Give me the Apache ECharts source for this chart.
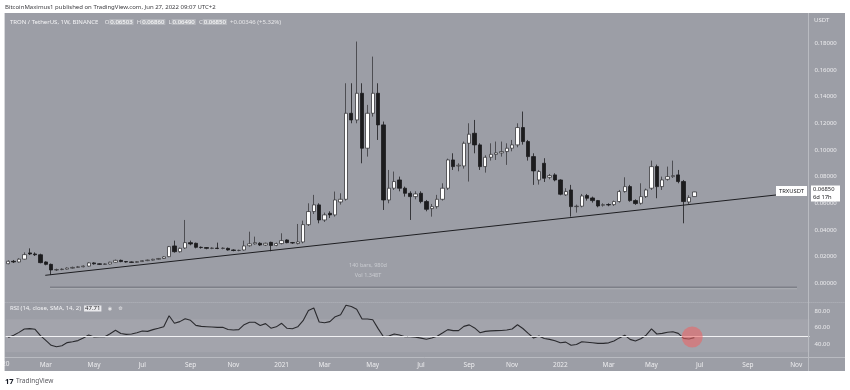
<!DOCTYPE html>
<html>
<head>
<meta charset="utf-8">
<script src="https://cdn.jsdelivr.net/npm/echarts@6/dist/echarts.min.js"></script>
<style>html,body{margin:0;padding:0;background:#fff}#c{width:850px;height:390px}</style>
</head>
<body>
<div id="c"></div>
<script>
// ---------- DATA ----------
const firstWeek = '2020-01-13';   // first visible weekly candle
const weekSlots = 150;            // visible slots incl. empty future weeks
const monthNames = ['Jan','Feb','Mar','Apr','May','Jun','Jul','Aug','Sep','Oct','Nov','Dec'];

const open = [
0.0147,0.0165,0.0160,0.0181,0.0228,0.0220,0.0214,0.0160,0.0142,0.0100,
0.0103,0.0106,0.0114,0.0119,0.0124,0.0129,0.0153,0.0146,0.0142,0.0145,
0.0158,0.0172,0.0163,0.0160,0.0157,0.0163,0.0170,0.0174,0.0180,0.0186,
0.0200,0.0280,0.0237,0.0265,0.0305,0.0300,0.0270,0.0268,0.0262,0.0264,
0.0261,0.0262,0.0250,0.0246,0.0250,0.0282,0.0296,0.0300,0.0287,0.0307,
0.0284,0.0298,0.0325,0.0305,0.0298,0.0310,0.0440,0.0538,0.0588,0.0475,
0.0525,0.0513,0.0610,0.0630,0.1275,0.1225,0.1425,0.1013,0.1275,0.1425,
0.1188,0.0625,0.0713,0.0775,0.0713,0.0675,0.0650,0.0675,0.0613,0.0560,
0.0575,0.0630,0.0713,0.0925,0.0880,0.0880,0.1050,0.1125,0.1038,0.0875,
0.0945,0.0967,0.0978,0.0988,0.1013,0.1038,0.1168,0.1063,0.0950,0.0775,
0.0900,0.0795,0.0813,0.0775,0.0663,0.0700,0.0575,0.0578,0.0658,0.0640,
0.0620,0.0585,0.0590,0.0590,0.0613,0.0688,0.0725,0.0620,0.0600,0.0650,
0.0713,0.0875,0.0725,0.0780,0.0800,0.0813,0.0763,0.0610,0.06503];
const close = [
0.0165,0.0160,0.0181,0.0215,0.0220,0.0214,0.0155,0.0142,0.0100,0.0103,
0.0106,0.0114,0.0119,0.0124,0.0129,0.0153,0.0146,0.0142,0.0145,0.0158,
0.0172,0.0163,0.0160,0.0157,0.0163,0.0170,0.0174,0.0180,0.0186,0.0198,
0.0275,0.0237,0.0262,0.0305,0.0295,0.0270,0.0268,0.0262,0.0264,0.0261,
0.0264,0.0250,0.0246,0.0247,0.0280,0.0296,0.0305,0.0287,0.0300,0.0284,
0.0298,0.0320,0.0305,0.0303,0.0310,0.0440,0.0538,0.0588,0.0475,0.0513,
0.0513,0.0625,0.0630,0.1275,0.1225,0.1425,0.1013,0.1275,0.1425,0.1188,
0.0625,0.0713,0.0763,0.0713,0.0675,0.0650,0.0670,0.0613,0.0555,0.0575,
0.0630,0.0713,0.0925,0.0875,0.0885,0.1050,0.1118,0.1038,0.0875,0.0945,
0.0967,0.0978,0.0988,0.1013,0.1038,0.1168,0.1063,0.0950,0.0843,0.0838,
0.0788,0.0808,0.0775,0.0668,0.0688,0.0575,0.0578,0.0655,0.0638,0.0620,
0.0580,0.0590,0.0588,0.0613,0.0688,0.0725,0.0620,0.0598,0.0650,0.0700,
0.0875,0.0725,0.0775,0.0800,0.0808,0.0763,0.0613,0.0643,0.06850];
const low = [
0.0143,0.0152,0.0156,0.0178,0.0212,0.0205,0.0150,0.0135,0.0062,0.0092,
0.0098,0.0102,0.0110,0.0115,0.0120,0.0125,0.0140,0.0137,0.0138,0.0141,
0.0154,0.0158,0.0155,0.0152,0.0153,0.0160,0.0166,0.0170,0.0176,0.0182,
0.0196,0.0230,0.0230,0.0258,0.0285,0.0262,0.0260,0.0255,0.0256,0.0256,
0.0255,0.0245,0.0240,0.0240,0.0245,0.0275,0.0290,0.0280,0.0280,0.0240,
0.0278,0.0292,0.0300,0.0296,0.0292,0.0300,0.0430,0.0520,0.0450,0.0460,
0.0490,0.0500,0.0590,0.0620,0.1200,0.1200,0.0900,0.0950,0.1250,0.1075,
0.0550,0.0600,0.0700,0.0690,0.0650,0.0475,0.0630,0.0600,0.0540,0.0500,
0.0560,0.0620,0.0700,0.0850,0.0840,0.0860,0.0763,0.0975,0.0850,0.0830,
0.0920,0.0925,0.0950,0.0888,0.0990,0.1020,0.1040,0.0920,0.0738,0.0740,
0.0760,0.0780,0.0765,0.0660,0.0655,0.0500,0.0530,0.0570,0.0620,0.0605,
0.0570,0.0575,0.0578,0.0580,0.0605,0.0680,0.0612,0.0588,0.0590,0.0640,
0.0700,0.0638,0.0700,0.0770,0.0790,0.0750,0.0450,0.0595,0.06490];
const high = [
0.0172,0.0175,0.0188,0.0232,0.0262,0.0232,0.0222,0.0165,0.0148,0.0110,
0.0112,0.0120,0.0125,0.0130,0.0134,0.0158,0.0158,0.0150,0.0150,0.0162,
0.0178,0.0178,0.0167,0.0164,0.0167,0.0174,0.0178,0.0184,0.0190,0.0203,
0.0280,0.0320,0.0268,0.0475,0.0320,0.0305,0.0276,0.0272,0.0270,0.0305,
0.0270,0.0268,0.0255,0.0252,0.0320,0.0387,0.0350,0.0308,0.0305,0.0312,
0.0305,0.0375,0.0330,0.0310,0.0445,0.0470,0.0600,0.0663,0.0600,0.0530,
0.0540,0.0688,0.0675,0.1500,0.1500,0.1813,0.1500,0.1338,0.1700,0.1500,
0.1213,0.0850,0.0838,0.0800,0.0725,0.0690,0.0690,0.0690,0.0625,0.0595,
0.0663,0.0750,0.0935,0.0975,0.0900,0.1063,0.1200,0.1225,0.1050,0.0960,
0.1050,0.1063,0.1063,0.1050,0.1075,0.1200,0.1288,0.1075,0.0975,0.0850,
0.0938,0.0820,0.0825,0.0780,0.0713,0.0738,0.0590,0.0670,0.0670,0.0650,
0.0625,0.0600,0.0600,0.0620,0.0700,0.0795,0.0738,0.0630,0.0750,0.0710,
0.0920,0.0890,0.0800,0.0875,0.0920,0.0850,0.0775,0.0660,0.06860];
const rsi = [
48.0,50.5,54.1,58.2,58.6,57.8,50.1,44.4,38.4,36.7,
37.9,41.7,42.8,44.1,47.3,50.9,48.6,48.9,48.8,52.5,
56.6,52.7,51.7,52.1,53.7,55.7,55.3,57.4,59.0,61.0,
74.3,65.1,67.1,70.7,68.7,62.6,61.4,61.0,60.6,60.2,
60.2,57.6,57.0,57.4,63.4,66.3,66.3,62.4,64.7,59.2,
60.8,65.1,59.0,58.5,60.8,68.3,80.7,83.7,66.7,65.8,
67.1,73.1,75.5,86.9,85.4,82.2,70.3,70.3,69.3,58.6,
48.8,49.7,52.1,50.9,48.8,48.8,48.3,47.1,45.8,47.2,
49.3,53.3,57.4,56.2,56.2,61.4,63.2,59.5,53.7,55.3,
55.9,56.2,56.3,57.0,58.2,63.3,58.8,52.9,47.3,49.7,
46.6,45.6,44.0,41.6,42.3,38.4,39.3,42.8,42.2,41.6,
40.8,40.8,41.4,43.6,47.4,50.7,45.6,43.6,46.4,50.7,
58.4,52.1,52.9,54.3,54.8,52.9,46.8,46.0,47.7];
// drawn trend line (bar index, price)
const trendX = [6.9, 144.5];
const trendY = [0.0060, 0.0668];
// highlight circle on RSI (bar index, rsi)
const circleAt = [127.6, 48.5];
const priceTicks = [0,0.02,0.04,0.06,0.08,0.10,0.12,0.14,0.16,0.18];
const rsiTicks = [40,60,80];

// ---------- BUILD ----------
const categories = [];
const t0 = Date.parse(firstWeek + 'T00:00:00Z');
for (let i = 0; i < weekSlots; i++) {
  categories.push(new Date(t0 + i * 7 * 86400000).toISOString().slice(0, 10));
}
const candles = open.map((o, i) => [o, close[i], low[i], high[i]]);

const FONT = 'Noto Sans';
const AX = '#ececee';
const GL = 5.6, GW = 804;

const chart = echarts.init(document.getElementById('c'), null, {renderer: 'canvas', width: 850, height: 390});
chart.setOption({
  animation: false,
  backgroundColor: '#9c9ea6',
  textStyle: {fontFamily: FONT},
  grid: [
    {left: GL, width: GW, top: 16.6, height: 266.7},
    {left: GL, width: GW, top: 294.5, height: 66}
  ],
  xAxis: [
    {type: 'category', gridIndex: 0, data: categories, boundaryGap: true,
     axisLine: {show: false}, axisTick: {show: false}, axisLabel: {show: false}, splitLine: {show: false}},
    {type: 'category', gridIndex: 1, data: categories, boundaryGap: true, z: 70,
     axisLine: {show: false}, axisTick: {show: false}, splitLine: {show: false},
     axisLabel: {
       color: AX, fontSize: 6.5, fontFamily: FONT, margin: 1,
       interval: function (idx, val) {
         const d = new Date(val + 'T00:00:00Z');
         return d.getUTCDate() <= 7 && d.getUTCMonth() % 2 === 0;
       },
       formatter: function (val) {
         const d = new Date(val + 'T00:00:00Z');
         return d.getUTCMonth() === 0 ? String(d.getUTCFullYear()) : monthNames[d.getUTCMonth()];
       }
     }},
    {type: 'value', gridIndex: 0, min: -0.5, max: weekSlots - 0.5, show: false},
    {type: 'value', gridIndex: 1, min: -0.5, max: weekSlots - 0.5, show: false}
  ],
  yAxis: [
    {type: 'value', gridIndex: 0, position: 'right', min: 0, max: 0.2, interval: 0.02,
     axisLine: {show: false}, axisTick: {show: false}, splitLine: {show: false},
     axisLabel: {color: AX, fontSize: 6, fontFamily: FONT, margin: 5, align: 'left',
       formatter: v => priceTicks.some(t => Math.abs(t - v) < 1e-9) ? v.toFixed(5) : ''}},
    {type: 'value', gridIndex: 1, position: 'right', min: 20, max: 100, interval: 20,
     axisLine: {show: false}, axisTick: {show: false}, splitLine: {show: false},
     axisLabel: {color: AX, fontSize: 6, fontFamily: FONT, margin: 5, align: 'left',
       formatter: v => rsiTicks.indexOf(v) >= 0 ? v.toFixed(2) : ''}}
  ],
  series: [
    {type: 'candlestick', xAxisIndex: 0, yAxisIndex: 0, data: candles, barWidth: 3.8,
     itemStyle: {color: '#ffffff', color0: '#1c1c1e', borderColor: '#3a3a3e', borderColor0: '#1c1c1e', borderWidth: 0.8}},
    {type: 'line', xAxisIndex: 2, yAxisIndex: 0, data: trendX.map((x, i) => [x, trendY[i]]),
     symbol: 'none', lineStyle: {color: '#1e1e22', width: 1}, z: 3},
    {type: 'line', xAxisIndex: 1, yAxisIndex: 1, data: rsi, symbol: 'none',
     lineStyle: {color: '#2a2a2e', width: 1.1},
     markArea: {silent: true, itemStyle: {color: 'rgba(255,255,255,0.07)'}, data: [[{yAxis: 30}, {yAxis: 70}]]},
     markLine: {silent: true, symbol: 'none', label: {show: false},
       lineStyle: {color: '#f2f2f4', width: 1, type: 'solid'}, data: [{yAxis: 50}]}},
    {type: 'scatter', xAxisIndex: 3, yAxisIndex: 1, data: [circleAt], symbolSize: 21,
     itemStyle: {color: 'rgba(236,100,100,0.72)'}, z: 5}
  ],
  graphic: {elements: [
    {type: 'line', shape: {x1: 4.6, y1: 357.5, x2: 845, y2: 357.5}, style: {stroke: '#b9bbc1', lineWidth: 1}, z: 50},
    {type: 'line', shape: {x1: 4.6, y1: 302.5, x2: 845, y2: 302.5}, style: {stroke: '#b4b6bc', lineWidth: 1, lineDash: [1, 1]}, z: 50},
    {type: 'line', shape: {x1: 808.5, y1: 13, x2: 808.5, y2: 371}, style: {stroke: '#b9bbc1', lineWidth: 1}, z: 50},
    // date range tool bar and texts
    {type: 'rect', shape: {x: 50, y: 286.5, width: 747, height: 1.6}, style: {fill: 'rgba(70,72,80,0.35)'}, z: 4},
    {type: 'rect', shape: {x: 50, y: 288.3, width: 747, height: 1}, style: {fill: 'rgba(255,255,255,0.18)'}, z: 4},
    {type: 'text', x: 368, y: 265, style: {text: '140 bars, 980d', fill: '#c9cbd0', fontSize: 5.5, fontFamily: FONT, align: 'center', verticalAlign: 'middle'}, z: 60},
    {type: 'text', x: 368, y: 275, style: {text: 'Vol 1.348T', fill: '#c9cbd0', fontSize: 5.5, fontFamily: FONT, align: 'center', verticalAlign: 'middle'}, z: 60},
    // legend line
    {type: 'text', x: 10, y: 22, z: 60, style: {
      text: '{t|TRON / TetherUS, 1W, BINANCE}  {l|O}{v|0.06503} {l|H}{v|0.06860} {l|L}{v|0.06490} {l|C}{v|0.06850} {l|+0.00346 (+5.32%)}',
      verticalAlign: 'middle', fontFamily: FONT,
      rich: {
        t: {fill: '#f3f3f5', fontSize: 6, fontFamily: FONT},
        l: {fill: '#e8e8ea', fontSize: 6, fontFamily: FONT},
        v: {fill: '#ffffff', fontSize: 6, fontFamily: FONT, backgroundColor: 'rgba(255,255,255,0.22)', padding: [0, 1]}
      }}},
    {type: 'text', x: 814, y: 20, z: 60, style: {text: 'USDT', fill: AX, fontSize: 6, fontFamily: FONT, verticalAlign: 'middle'}},
    // RSI legend
    {type: 'text', x: 10, y: 308.5, z: 60, style: {
      text: '{t|RSI (14, close, SMA, 14, 2)} {v|47.71}  {i|◉}  {i|⚙}',
      verticalAlign: 'middle', fontFamily: FONT,
      rich: {
        t: {fill: '#f3f3f5', fontSize: 6, fontFamily: FONT},
        v: {fill: '#2a2a2e', fontSize: 6, fontFamily: FONT, backgroundColor: '#e9e9ec', padding: [0, 1]},
        i: {fill: '#e6e6e8', fontSize: 5, fontFamily: 'DejaVu Sans'}
      }}},
    // last price tags
    {type: 'rect', shape: {x: 776, y: 186, width: 31, height: 10}, style: {fill: '#ffffff'}, z: 60},
    {type: 'text', x: 791.5, y: 191.2, z: 61, style: {text: 'TRXUSDT', fill: '#222226', fontSize: 5.8, fontFamily: FONT, align: 'center', verticalAlign: 'middle'}},
    {type: 'rect', shape: {x: 811, y: 185.5, width: 29, height: 16}, style: {fill: '#ffffff'}, z: 60},
    {type: 'text', x: 813, y: 189.5, z: 61, style: {text: '0.06850', fill: '#222226', fontSize: 5.8, fontFamily: FONT, verticalAlign: 'middle'}},
    {type: 'text', x: 813, y: 197, z: 61, style: {text: '6d 17h', fill: '#222226', fontSize: 5.8, fontFamily: FONT, verticalAlign: 'middle'}},
    // first year label (clipped by frame)
    {type: 'text', x: 2, y: 364.5, z: 55, style: {text: '2020', fill: AX, fontSize: 6.5, fontFamily: FONT, align: 'center', verticalAlign: 'middle'}},
    // white frame
    {type: 'rect', shape: {x: 0, y: 0, width: 850, height: 13}, style: {fill: '#ffffff'}, z: 100},
    {type: 'rect', shape: {x: 0, y: 371, width: 850, height: 19}, style: {fill: '#ffffff'}, z: 100},
    {type: 'rect', shape: {x: 0, y: 0, width: 4.6, height: 390}, style: {fill: '#ffffff'}, z: 100},
    {type: 'rect', shape: {x: 845, y: 0, width: 5, height: 390}, style: {fill: '#ffffff'}, z: 100},
    // header and footer
    {type: 'text', x: 5, y: 7, z: 101, style: {text: 'BitcoinMaximus1 published on TradingView.com, Jun 27, 2022 09:07 UTC+2', fill: '#3c3c40', fontSize: 6, fontFamily: FONT, verticalAlign: 'middle'}},
    {type: 'text', x: 5, y: 381.5, z: 101, style: {text: '17', fill: '#131722', fontSize: 7.5, fontWeight: 'bold', fontFamily: FONT, verticalAlign: 'middle'}},
    {type: 'text', x: 16, y: 381.5, z: 101, style: {text: 'TradingView', fill: '#5a5a60', fontSize: 6.5, fontFamily: FONT, verticalAlign: 'middle'}}
  ]}
});
</script>
</body>
</html>
